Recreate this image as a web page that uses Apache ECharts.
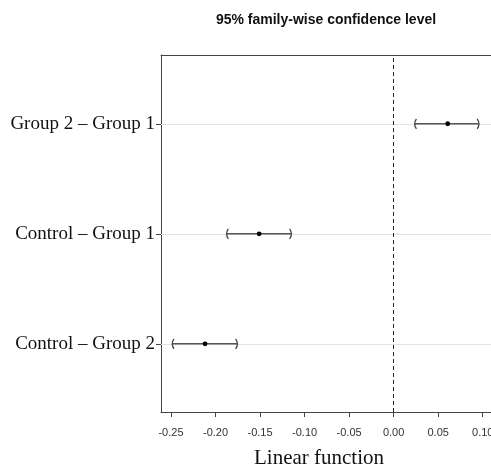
<!DOCTYPE html>
<html>
<head>
<meta charset="utf-8">
<script src="https://cdn.jsdelivr.net/npm/echarts@6/dist/echarts.min.js"></script>
<style>
  html, body { margin: 0; padding: 0; background: #fff; }
  #chart { width: 491px; height: 468px; }
</style>
</head>
<body>
<div id="chart"></div>
<script>
// Tukey-style simultaneous intervals
const comparisons = ['Group 2 \u2013 Group 1', 'Control \u2013 Group 1', 'Control \u2013 Group 2'];
const estimates = [0.0607, -0.1510, -0.2117];
const lowers = [0.0239, -0.1873, -0.2483];
const uppers = [0.0955, -0.1151, -0.1757];
const xTicks = [-0.25, -0.20, -0.15, -0.10, -0.05, 0.00, 0.05, 0.10];

// top row is the first comparison
const levels = comparisons.map((c, i) => comparisons.length - i);
const intervalData = comparisons.map((c, i) => [levels[i], lowers[i], estimates[i], uppers[i]]);

const chart = echarts.init(document.getElementById('chart'));

function renderInterval(params, api) {
    const y = api.value(0);
    const lo = api.coord([api.value(1), y]);
    const mid = api.coord([api.value(2), y]);
    const hi = api.coord([api.value(3), y]);
    const h = 5;
    const bracketStyle = { stroke: '#444', lineWidth: 1.3, fill: null };
    return {
        type: 'group',
        children: [
            {
                type: 'line',
                shape: { x1: lo[0], y1: lo[1], x2: hi[0], y2: hi[1] },
                style: { stroke: '#555', lineWidth: 1.4 }
            },
            {
                type: 'bezierCurve',
                shape: { x1: lo[0] + 1.5, y1: lo[1] - h, cpx1: lo[0] - 2, cpy1: lo[1], x2: lo[0] + 1.5, y2: lo[1] + h },
                style: bracketStyle
            },
            {
                type: 'bezierCurve',
                shape: { x1: hi[0] - 1.5, y1: hi[1] - h, cpx1: hi[0] + 2, cpy1: hi[1], x2: hi[0] - 1.5, y2: hi[1] + h },
                style: bracketStyle
            },
            {
                type: 'circle',
                shape: { cx: mid[0], cy: mid[1], r: 2.4 },
                style: { fill: '#000' }
            }
        ]
    };
}

const option = {
    backgroundColor: '#fff',
    animation: false,
    grid: { left: 161, right: 0, top: 55, bottom: 56, show: false, outerBoundsMode: 'none', containLabel: false },
    graphic: [
        {
            type: 'text',
            x: 326, y: 20,
            style: {
                text: '95% family-wise confidence level',
                font: 'bold 14px "Liberation Sans", Arial, sans-serif',
                fill: '#111',
                textAlign: 'center',
                textVerticalAlign: 'middle'
            }
        },
        {
            type: 'text',
            x: 319, y: 458,
            style: {
                text: 'Linear function',
                font: '21px "Liberation Serif", "Times New Roman", serif',
                fill: '#111',
                textAlign: 'center',
                textVerticalAlign: 'middle'
            }
        }
    ],
    xAxis: [
        {
            type: 'value',
            min: -0.2612,
            max: 0.1093,
            position: 'bottom',
            axisLine: { show: true, onZero: false, lineStyle: { color: '#444', width: 1 } },
            axisTick: { show: true, length: 5, customValues: xTicks, lineStyle: { color: '#444' } },
            axisLabel: {
                customValues: xTicks,
                margin: 15,
                color: '#333',
                fontSize: 11,
                fontFamily: '"Liberation Sans", Arial, sans-serif',
                formatter: v => v.toFixed(2)
            },
            splitLine: { show: false }
        },
        {
            type: 'value',
            min: -0.2612,
            max: 0.1093,
            position: 'top',
            axisLine: { show: true, onZero: false, lineStyle: { color: '#444', width: 1 } },
            axisTick: { show: false },
            axisLabel: { show: false },
            splitLine: { show: false }
        }
    ],
    yAxis: {
        type: 'value',
        min: 0.38,
        max: 3.625,
        axisLine: { show: true, onZero: false, lineStyle: { color: '#444', width: 1 } },
        axisTick: { show: true, length: 5, customValues: levels, lineStyle: { color: '#444' } },
        axisLabel: {
            customValues: levels,
            margin: 6,
            color: '#111',
            fontSize: 19,
            fontFamily: '"Liberation Serif", "Times New Roman", serif',
            formatter: v => comparisons[comparisons.length - Math.round(v)]
        },
        splitLine: { show: false }
    },
    series: [
        {
            type: 'line',
            data: [],
            silent: true,
            z: 1,
            markLine: {
                silent: true,
                z: 1,
                symbol: 'none',
                label: { show: false },
                lineStyle: { color: '#e3e3e3', type: 'solid', width: 1 },
                data: levels.map(l => ({ yAxis: l }))
            }
        },
        {
            type: 'line',
            data: [],
            silent: true,
            z: 2,
            markLine: {
                silent: true,
                z: 2,
                symbol: 'none',
                label: { show: false },
                lineStyle: { color: '#222', type: [4, 3], width: 1 },
                data: [{ xAxis: 0 }]
            }
        },
        {
            type: 'custom',
            renderItem: renderInterval,
            encode: { x: [1, 2, 3], y: 0 },
            data: intervalData,
            z: 10
        }
    ]
};

chart.setOption(option);
</script>
</body>
</html>
